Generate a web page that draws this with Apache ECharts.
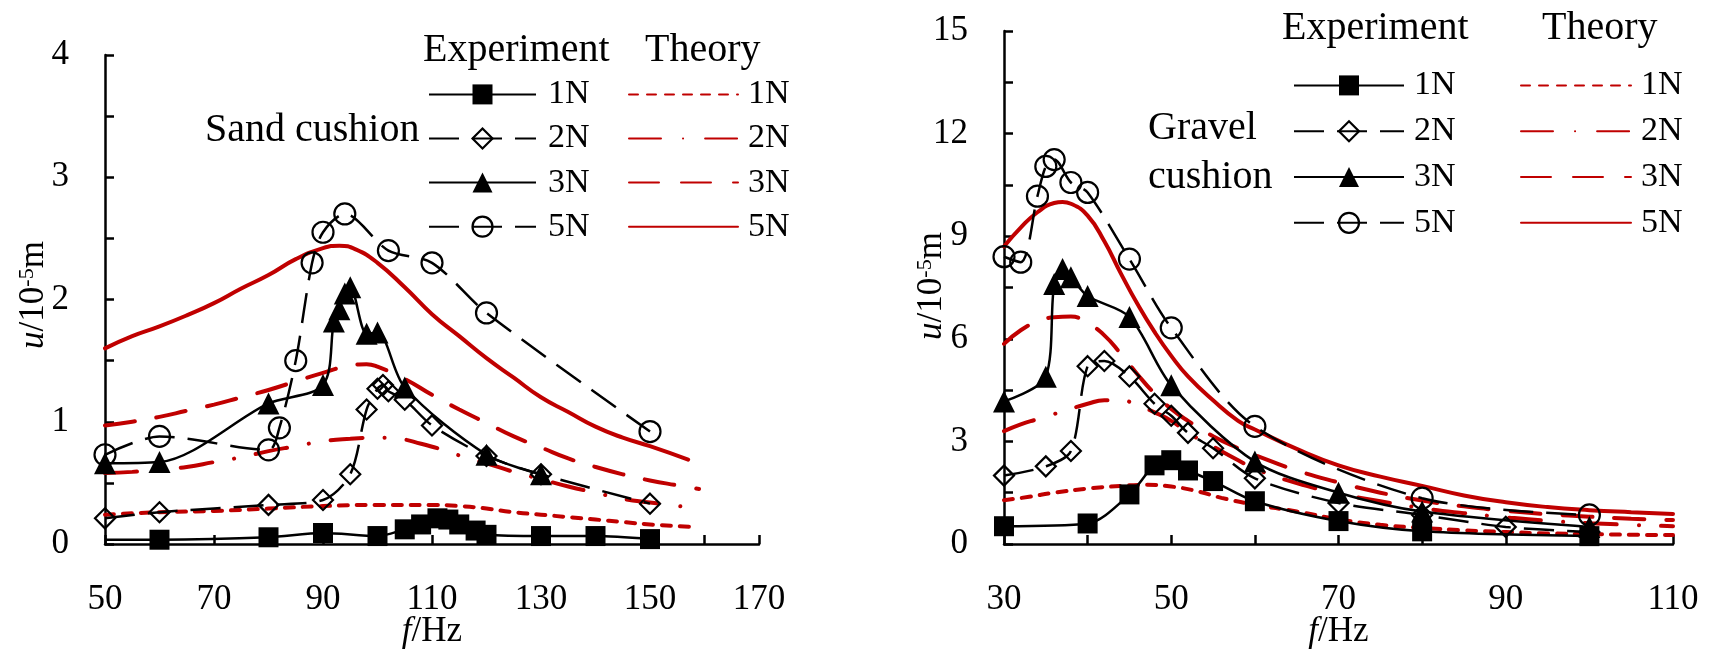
<!DOCTYPE html>
<html><head><meta charset="utf-8">
<script src="https://cdn.jsdelivr.net/npm/echarts@6/dist/echarts.min.js"></script>
<style>html,body{margin:0;padding:0;background:#fff}#c{width:1711px;height:654px}</style>
</head><body><div id="c"></div>
<script>
const FONT = 'Liberation Serif';
const RED = '#C00000';

// ---- Sand cushion (left) : [f (Hz), u (10^-5 m)] ----
const sandExp1N = [[50,0.035],[60,0.035],[80,0.055],[90,0.09],[100,0.065],[105,0.12],[108,0.16],[111,0.21],[113,0.2],[115,0.16],[118,0.11],[120,0.075],[130,0.065],[140,0.065],[150,0.04]];
const sandExp2N = [[50,0.21],[60,0.26],[80,0.32],[90,0.36],[95,0.57],[98,1.1],[100,1.27],[101,1.3],[102,1.25],[105,1.18],[110,0.97],[120,0.72],[130,0.57],[150,0.33]];
const sandExp3N = [[50,0.66],[60,0.67],[80,1.15],[90,1.3],[92,1.82],[93,1.92],[94,2.05],[95,2.1],[98,1.72],[100,1.73],[105,1.28],[120,0.73],[130,0.57]];
const sandExp5N = [[50,0.73],[60,0.88],[80,0.77],[82,0.95],[85,1.5],[88,2.3],[90,2.55],[94,2.7],[102,2.4],[110,2.3],[120,1.89],[150,0.92]];
const sandThe1N = [[50,0.24],[60,0.26],[70,0.27],[80,0.29],[90,0.31],[100,0.32],[110,0.32],[115,0.31],[120,0.29],[125,0.26],[130,0.24],[135,0.22],[140,0.2],[145,0.18],[150,0.16],[158,0.14]];
const sandThe2N = [[50,0.58],[55,0.59],[60,0.61],[65,0.63],[70,0.67],[75,0.71],[80,0.76],[85,0.8],[90,0.84],[95,0.86],[100,0.87],[104,0.86],[108,0.82],[112,0.77],[116,0.71],[120,0.66],[125,0.59],[130,0.53],[135,0.47],[140,0.42],[145,0.37],[150,0.34],[157,0.3]];
const sandThe3N = [[50,0.97],[55,1.0],[60,1.04],[65,1.09],[70,1.14],[75,1.2],[80,1.26],[85,1.33],[90,1.4],[95,1.46],[98,1.47],[100,1.45],[105,1.35],[110,1.22],[115,1.1],[120,0.99],[125,0.88],[130,0.79],[135,0.7],[140,0.63],[145,0.57],[150,0.52],[155,0.48],[159,0.45]];
const sandThe5N = [[50,1.6],[55,1.7],[60,1.78],[65,1.87],[70,1.97],[75,2.09],[80,2.2],[85,2.33],[90,2.42],[93,2.44],[96,2.41],[100,2.3],[105,2.1],[110,1.88],[115,1.7],[120,1.52],[125,1.36],[130,1.2],[135,1.08],[140,0.96],[145,0.87],[150,0.8],[157,0.69]];

// ---- Gravel cushion (right) ----
const gravExp1N = [[30,0.52],[40,0.6],[45,1.45],[48,2.3],[50,2.45],[52,2.15],[55,1.84],[60,1.25],[70,0.67],[80,0.37],[100,0.23]];
const gravExp2N = [[30,2.0],[35,2.27],[38,2.72],[40,5.2],[42,5.35],[45,4.9],[48,4.1],[50,3.75],[52,3.25],[55,2.8],[60,1.92],[70,1.2],[80,0.85],[90,0.5],[100,0.35]];
const gravExp3N = [[30,4.17],[35,4.89],[36,7.6],[37,8.04],[38,7.8],[40,7.25],[45,6.64],[50,4.64],[60,2.41],[70,1.5],[80,0.95],[100,0.5]];
const gravExp5N = [[30,8.4],[32,8.24],[34,10.17],[35,11.04],[36,11.24],[38,10.57],[40,10.28],[45,8.33],[50,6.32],[60,3.44],[80,1.34],[100,0.85]];
const gravThe1N = [[30,1.28],[33,1.38],[36,1.5],[40,1.62],[44,1.7],[47,1.73],[50,1.68],[53,1.55],[56,1.35],[60,1.15],[65,0.95],[70,0.72],[75,0.56],[80,0.47],[85,0.4],[90,0.35],[95,0.31],[100,0.29],[105,0.27],[110,0.26]];
const gravThe2N = [[30,3.3],[32,3.5],[34,3.65],[36,3.8],[38,3.95],[40,4.1],[42,4.2],[44,4.2],[46,4.05],[48,3.85],[50,3.6],[52,3.25],[55,2.85],[58,2.45],[60,2.2],[65,1.78],[70,1.48],[75,1.25],[80,1.05],[85,0.9],[90,0.78],[95,0.68],[100,0.61],[105,0.56],[110,0.52]];
const gravThe3N = [[30,5.85],[32,6.25],[34,6.5],[36,6.63],[38,6.65],[40,6.45],[42,6.1],[44,5.55],[46,4.95],[48,4.4],[50,3.95],[52,3.6],[55,3.15],[58,2.8],[60,2.6],[65,2.15],[70,1.8],[75,1.5],[80,1.27],[85,1.1],[90,0.97],[95,0.87],[100,0.8],[105,0.74],[110,0.7]];
const gravThe5N = [[30,8.7],[32,9.25],[34,9.7],[36,9.97],[37,10.0],[38,9.95],[40,9.6],[42,8.85],[44,7.9],[46,7.0],[48,6.2],[50,5.5],[52,4.9],[55,4.2],[58,3.6],[60,3.35],[65,2.78],[70,2.3],[75,1.97],[80,1.7],[85,1.42],[90,1.22],[95,1.08],[100,0.99],[105,0.93],[110,0.88]];

// tick label sets
const sandXLabels = [50,70,90,110,130,150,170];
const sandYLabels = [0,1,2,3,4];
const gravXLabels = [30,50,70,90,110];
const gravYLabels = [0,3,6,9,12,15];

const DASH_EXP = [30, 13];
const DASH_T1 = [9, 9];
const DASH_T2 = [32, 22, 0.1, 22];
const DASH_T3 = [30, 22];

function expSeries(name, data, symbol, filled, dashed, g, size, hideFirst) {
  return {
    name, type: 'line', xAxisIndex: g, yAxisIndex: g, smooth: 0.3,
    data: data.map((p, i) => (hideFirst && i === 0) ? {value: p, symbol: 'none'} : p),
    symbol, symbolSize: size, z: 5,
    lineStyle: {color: '#000', width: 2.5, type: dashed ? DASH_EXP : 'solid'},
    itemStyle: filled ? {color: '#000'} : {color: 'rgba(255,255,255,0)', borderColor: '#000', borderWidth: 2.2}
  };
}
function theSeries(name, data, dash, g) {
  return {
    name, type: 'line', xAxisIndex: g, yAxisIndex: g, smooth: true, symbol: 'none', z: 3,
    data, lineStyle: {color: RED, width: 4, type: dash || 'solid', cap: 'round'},
    itemStyle: {color: RED}
  };
}

const axisCommon = {
  axisLine: {lineStyle: {color: '#000', width: 2.5}},
  axisTick: {inside: true, length: 9, lineStyle: {color: '#000', width: 2.5}},
  splitLine: {show: false},
};
const labelStyle = {fontFamily: FONT, fontSize: 35, color: '#000'};
const richName = {
  i: {fontFamily: FONT, fontSize: 35, fontStyle: 'italic', color: '#000'},
  n: {fontFamily: FONT, fontSize: 35, color: '#000'},
  s: {fontFamily: FONT, fontSize: 22, color: '#000', verticalAlign: 'top', lineHeight: 22}
};
function xAxis(g, min, max, labels) {
  return Object.assign({}, axisCommon, {
    type: 'value', gridIndex: g, min, max, interval: 10,
    axisLabel: Object.assign({}, labelStyle, {margin: 38, formatter: v => labels.includes(v) ? String(v) : ''}),
    name: '{i|f}{n|/Hz}', nameLocation: 'middle', nameGap: 70, nameMoveOverlap: false,
    nameTextStyle: {rich: richName}
  });
}
function yAxis(g, max, interval, labels) {
  return Object.assign({}, axisCommon, {
    type: 'value', gridIndex: g, min: 0, max, interval,
    axisLabel: Object.assign({}, labelStyle, {margin: 36, formatter: v => labels.includes(v) ? String(v) : ''})
  });
}
const emptyLegendStyle = {color: 'rgba(255,255,255,0)', borderColor: '#000', borderWidth: 2.2};
function legend(names, left, top, width, gap, pad, theory) {
  return {
    data: names.map(n => (!theory && (n.endsWith('2N') || n.endsWith('5N'))) ? {name: n, itemStyle: emptyLegendStyle} : n),
    left, top, padding: 0, orient: 'vertical', itemWidth: width, itemHeight: 25, itemGap: gap,
    selectedMode: false, formatter: n => n.split(' ')[2],
    textStyle: {fontFamily: FONT, fontSize: 34, color: '#000', padding: [0, 0, 0, pad]},
    itemStyle: theory ? {opacity: 0} : undefined
  };
}
function yName(x, y) {
  return {type: 'text', x, y, rotation: Math.PI / 2, z: 10,
    style: {text: '{i|u}{n|/10}{s|-5}{n|m}', rich: richName, align: 'center', verticalAlign: 'middle'}};
}

const series = [
  expSeries('S E 1N', sandExp1N, 'rect', true, false, 0, 20, true),
  expSeries('S E 2N', sandExp2N, 'diamond', false, true, 0, 20),
  expSeries('S E 3N', sandExp3N, 'triangle', true, false, 0, 22),
  expSeries('S E 5N', sandExp5N, 'circle', false, true, 0, 21),
  theSeries('S T 1N', sandThe1N, DASH_T1, 0),
  theSeries('S T 2N', sandThe2N, DASH_T2, 0),
  theSeries('S T 3N', sandThe3N, DASH_T3, 0),
  theSeries('S T 5N', sandThe5N, null, 0),
  expSeries('G E 1N', gravExp1N, 'rect', true, false, 1, 20),
  expSeries('G E 2N', gravExp2N, 'diamond', false, true, 1, 20),
  expSeries('G E 3N', gravExp3N, 'triangle', true, false, 1, 22),
  expSeries('G E 5N', gravExp5N, 'circle', false, true, 1, 21),
  theSeries('G T 1N', gravThe1N, DASH_T1, 1),
  theSeries('G T 2N', gravThe2N, DASH_T2, 1),
  theSeries('G T 3N', gravThe3N, DASH_T3, 1),
  theSeries('G T 5N', gravThe5N, null, 1),
];

const chart = echarts.init(document.getElementById('c'), null, {renderer: 'canvas'});
chart.setOption({
  animation: false,
  backgroundColor: '#fff',
  textStyle: {fontFamily: FONT},
  grid: [
    {left: 105, top: 55, width: 654, height: 493},
    {left: 1004, top: 31, width: 669, height: 515}
  ],
  xAxis: [xAxis(0, 50, 170, sandXLabels), xAxis(1, 30, 110, gravXLabels)],
  yAxis: [yAxis(0, 4, 0.5, sandYLabels), yAxis(1, 15, 1.5, gravYLabels)],
  legend: [
    legend(['S E 1N','S E 2N','S E 3N','S E 5N'], 428, 77.4, 107, 10.1, 7, false),
    legend(['S T 1N','S T 2N','S T 3N','S T 5N'], 628, 77.4, 109, 10.1, 5, true),
    legend(['G E 1N','G E 2N','G E 3N','G E 5N'], 1293, 68.4, 110, 11.8, 5, false),
    legend(['G T 1N','G T 2N','G T 3N','G T 5N'], 1520, 68.4, 110, 11.8, 5, true)
  ],
  graphic: [
    {type: 'text', left: 205, top: 110, style: {text: 'Sand cushion', font: '40px "Liberation Serif"', fill: '#000'}},
    {type: 'text', left: 1148, top: 104, style: {text: 'Gravel\ncushion', font: '40px "Liberation Serif"', fill: '#000', lineHeight: 49}},
    {type: 'text', left: 423, top: 30, style: {text: 'Experiment', font: '40px "Liberation Serif"', fill: '#000'}},
    {type: 'text', left: 645, top: 30, style: {text: 'Theory', font: '40px "Liberation Serif"', fill: '#000'}},
    {type: 'text', left: 1282, top: 8, style: {text: 'Experiment', font: '40px "Liberation Serif"', fill: '#000'}},
    {type: 'text', left: 1542, top: 8, style: {text: 'Theory', font: '40px "Liberation Serif"', fill: '#000'}},
    yName(34, 295),
    yName(932, 286)
  ],
  series
});
</script></body></html>
